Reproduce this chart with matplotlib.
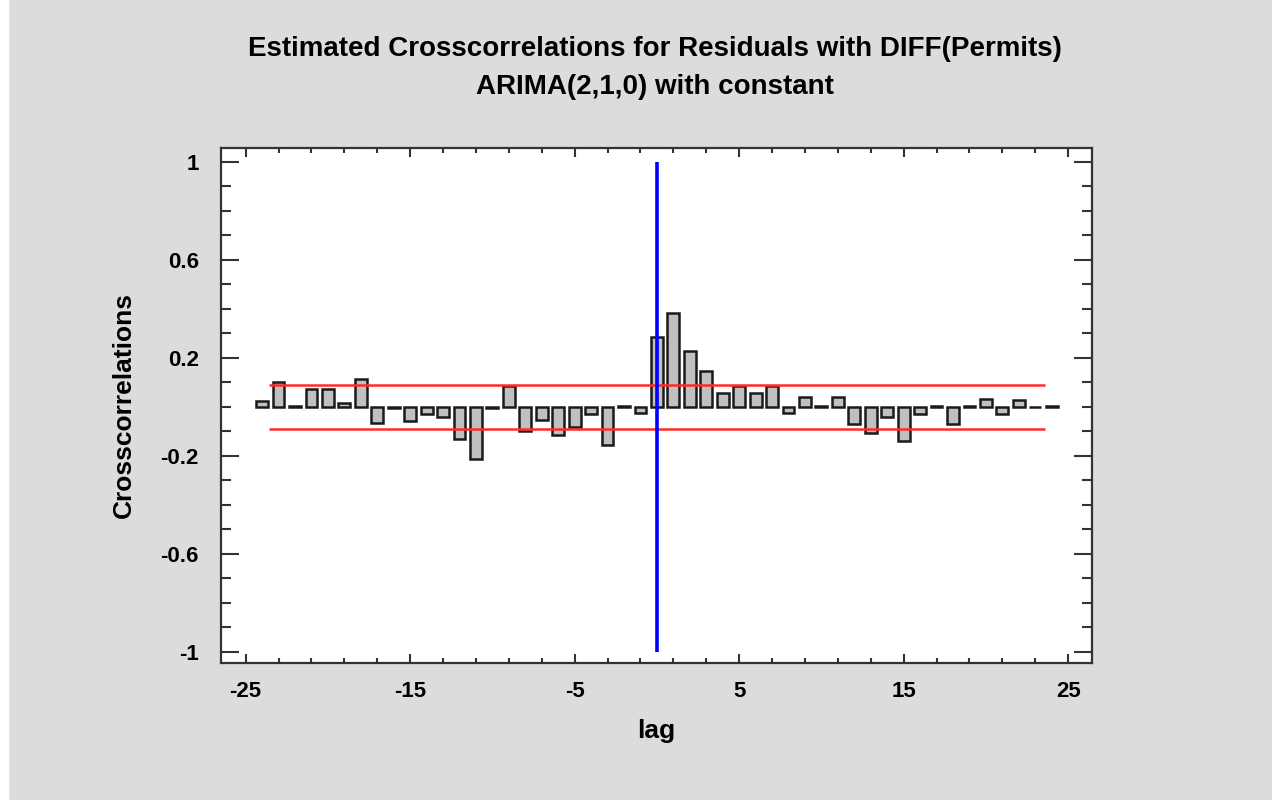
import matplotlib
matplotlib.use('Agg')
import matplotlib.pyplot as plt
import numpy as np
from matplotlib.ticker import MultipleLocator, FixedLocator

plt.rcParams['font.family'] = ['Liberation Sans', 'DejaVu Sans']
plt.rcParams['font.weight'] = 'bold'
plt.rcParams['axes.unicode_minus'] = False

# Lags -24..24 and estimated cross-correlations
lags = list(range(-24, 25))
ccf = [0.025, 0.100, 0.003, 0.072, 0.072, 0.014, 0.113, -0.066, -0.003, -0.057,
       -0.031, -0.041, -0.130, -0.214, -0.005, 0.087, -0.098, -0.055, -0.116, -0.083,
       -0.030, -0.157, 0.005, -0.025,
       0.287,
       0.385, 0.230, 0.148, 0.056, 0.086, 0.055, 0.086, -0.025, 0.041, 0.005,
       0.040, -0.072, -0.107, -0.041, -0.140, -0.031, 0.005, -0.072, 0.005, 0.033,
       -0.031, 0.026, 0.001, 0.004]
limit = 0.089
limit_span = [-23.6, 23.6]

title = 'Estimated Crosscorrelations for Residuals with DIFF(Permits)\nARIMA(2,1,0) with constant'

fig = plt.figure(figsize=(12.72, 8), dpi=100)
fig.patch.set_facecolor('#dcdcdc')
fig.add_artist(plt.Rectangle((0, 0), 8 / 1272, 1, color='white', transform=fig.transFigure))

ax = fig.add_axes([221 / 1272, 1 - 663 / 800, 871 / 1272, 515 / 800])
ax.set_facecolor('white')

ax.bar(lags, ccf, width=0.72, color='#c0c0c0', edgecolor='#1a1a1a', linewidth=1.8, zorder=2)
ax.hlines([limit, -limit], limit_span[0], limit_span[1], colors='#ff2a2a', linewidth=1.8, zorder=3)
ax.vlines(0, -1, 1, colors='#0000ff', linewidth=2.6, zorder=4)

ax.set_xlim(-26.5, 26.45)
ax.set_ylim(-1.046, 1.057)

ax.xaxis.set_major_locator(MultipleLocator(10, offset=5))
ax.xaxis.set_minor_locator(MultipleLocator(2, offset=1))
ax.yaxis.set_major_locator(FixedLocator([-1, -0.6, -0.2, 0.2, 0.6, 1]))
ax.yaxis.set_minor_locator(MultipleLocator(0.1))
ax.set_yticklabels(['-1', '-0.6', '-0.2', '0.2', '0.6', '1'])

ax.tick_params(axis='both', which='both', direction='in', top=True, right=True,
               color='#333333', width=1.5, labelsize=16)
ax.tick_params(axis='x', which='major', length=6.5, pad=13)
ax.tick_params(axis='x', which='minor', length=3.8)
ax.tick_params(axis='y', which='major', length=13, pad=16)
ax.tick_params(axis='y', which='minor', length=7.5)

for s in ax.spines.values():
    s.set_color('#333333')
    s.set_linewidth(1.6)

ax.set_xlabel('lag', fontsize=19, fontweight='bold', labelpad=12)
ax.set_ylabel('Crosscorrelations', fontsize=19, fontweight='bold', labelpad=18)

fig.text(0.515, 1 - 68 / 800, title, ha='center', va='center', fontsize=20,
         fontweight='bold', linespacing=1.55)

fig.savefig('out.png', dpi=100, facecolor=fig.get_facecolor())
